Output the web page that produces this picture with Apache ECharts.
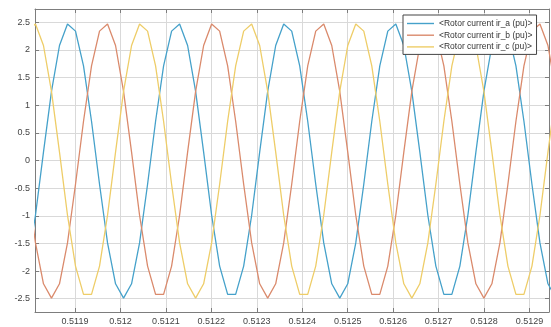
<!DOCTYPE html>
<html>
<head>
<meta charset="utf-8">
<script src="https://cdn.jsdelivr.net/npm/echarts@6.0.0/dist/echarts.min.js"></script>
<style>
  html, body { margin: 0; padding: 0; background: #fff; }
  #chart { width: 551px; height: 327px; }
</style>
</head>
<body>
<div id="chart"></div>
<script>
// sample times (s)
var times = [
    0.51179541, 0.51181303, 0.51183065, 0.51184827, 0.51186589, 0.51188351, 0.51190113, 0.51191875,
    0.51193637, 0.51195399, 0.51197161, 0.51198923, 0.51200685, 0.51202447, 0.51204209, 0.51205971,
    0.51207733, 0.51209495, 0.51211257, 0.51213019, 0.51214781, 0.51216543, 0.51218305, 0.51220067,
    0.51221829, 0.51223591, 0.51225353, 0.51227115, 0.51228877, 0.51230639, 0.51232401, 0.51234163,
    0.51235925, 0.51237687, 0.51239449, 0.51241211, 0.51242973, 0.51244735, 0.51246497, 0.51248259,
    0.51250021, 0.51251783, 0.51253545, 0.51255307, 0.51257069, 0.51258831, 0.51260593, 0.51262355,
    0.51264117, 0.51265879, 0.51267641, 0.51269403, 0.51271165, 0.51272927, 0.51274689, 0.51276451,
    0.51278213, 0.51279975, 0.51281737, 0.51283499, 0.51285261, 0.51287023, 0.51288785, 0.51290547,
    0.51292309, 0.51294071, 0.51295833
];

var irA = [
    -1.91, -0.99, 0.15, 1.25, 2.08, 2.47, 2.34, 1.71, 0.71, -0.43, -1.49, -2.23, -2.49, -2.23, -1.49, -0.43,
    0.71, 1.71, 2.34, 2.47, 2.08, 1.25, 0.15, -0.99, -1.91, -2.42, -2.42, -1.91, -0.99, 0.15, 1.25, 2.08,
    2.47, 2.34, 1.71, 0.71, -0.43, -1.49, -2.23, -2.49, -2.23, -1.49, -0.43, 0.71, 1.71, 2.34, 2.47, 2.08,
    1.25, 0.15, -0.99, -1.91, -2.42, -2.42, -1.91, -0.99, 0.15, 1.25, 2.08, 2.47, 2.34, 1.71, 0.71, -0.43,
    -1.49, -2.23, -2.49
];

var irB = [
    -0.43, -1.49, -2.23, -2.49, -2.23, -1.49, -0.43, 0.71, 1.71, 2.34, 2.47, 2.08, 1.25, 0.15, -0.99, -1.91,
    -2.42, -2.42, -1.91, -0.99, 0.15, 1.25, 2.08, 2.47, 2.34, 1.71, 0.71, -0.43, -1.49, -2.23, -2.49, -2.23,
    -1.49, -0.43, 0.71, 1.71, 2.34, 2.47, 2.08, 1.25, 0.15, -0.99, -1.91, -2.42, -2.42, -1.91, -0.99, 0.15,
    1.25, 2.08, 2.47, 2.34, 1.71, 0.71, -0.43, -1.49, -2.23, -2.49, -2.23, -1.49, -0.43, 0.71, 1.71, 2.34,
    2.47, 2.08, 1.25
];

var irC = [
    2.34, 2.47, 2.08, 1.25, 0.15, -0.99, -1.91, -2.42, -2.42, -1.91, -0.99, 0.15, 1.25, 2.08, 2.47, 2.34,
    1.71, 0.71, -0.43, -1.49, -2.23, -2.49, -2.23, -1.49, -0.43, 0.71, 1.71, 2.34, 2.47, 2.08, 1.25, 0.15,
    -0.99, -1.91, -2.42, -2.42, -1.91, -0.99, 0.15, 1.25, 2.08, 2.47, 2.34, 1.71, 0.71, -0.43, -1.49, -2.23,
    -2.49, -2.23, -1.49, -0.43, 0.71, 1.71, 2.34, 2.47, 2.08, 1.25, 0.15, -0.99, -1.91, -2.42, -2.42, -1.91,
    -0.99, 0.15, 1.25
];

var seriesNames = ['<Rotor current ir_a (pu)>', '<Rotor current ir_b (pu)>', '<Rotor current ir_c (pu)>'];
var xTicks = [0.5119, 0.5120, 0.5121, 0.5122, 0.5123, 0.5124, 0.5125, 0.5126, 0.5127, 0.5128, 0.5129];
var yTicks = [-2.5, -2, -1.5, -1, -0.5, 0, 0.5, 1, 1.5, 2, 2.5];

var xMin = 0.511812, xMax = 0.512943;
var yMin = -2.74, yMax = 2.74;
var colors = ['#45a1ca', '#da8a6c', '#eecd68'];
var fontFam = 'Liberation Sans, Arial, sans-serif';

function pairs(ys) {
    var out = [];
    for (var i = 0; i < times.length; i++) {
        out.push([times[i], ys[i]]);
    }
    return out;
}

function fmtX(v) { return String(+(+v).toFixed(4)); }
function fmtY(v) { return String(+(+v).toFixed(1)); }

var boxLine = {show: true, onZero: false, lineStyle: {color: '#7d7d7d', width: 1}};
var grid = {show: true, lineStyle: {color: '#d9d9d9', width: 1}};

var myChart = echarts.init(document.getElementById('chart'), null, {renderer: 'canvas'});
myChart.setOption({
    animation: false,
    backgroundColor: '#fff',
    color: colors,
    textStyle: {fontFamily: fontFam},
    grid: {left: 35, right: 2, top: 9, bottom: 15, containLabel: false},
    legend: {
        data: seriesNames,
        orient: 'vertical',
        left: 403,
        top: 15,
        padding: [4, 4, 3, 4],
        icon: 'rect',
        itemWidth: 27,
        itemHeight: 1.4,
        itemGap: 2.7,
        backgroundColor: '#fff',
        borderColor: '#444',
        borderWidth: 1,
        borderRadius: 0,
        textStyle: {fontSize: 8.5, lineHeight: 9, color: '#333', fontFamily: fontFam}
    },
    xAxis: [{
        type: 'value',
        position: 'bottom',
        min: xMin,
        max: xMax,
        axisLine: boxLine,
        splitLine: grid,
        axisTick: {show: true, inside: true, length: 4, lineStyle: {color: '#7d7d7d'}, customValues: xTicks},
        axisLabel: {customValues: xTicks, formatter: fmtX, fontSize: 9, color: '#444', margin: 5}
    }, {
        type: 'value',
        position: 'top',
        min: xMin,
        max: xMax,
        axisLine: boxLine,
        axisTick: {show: true, inside: true, length: 4, lineStyle: {color: '#7d7d7d'}, customValues: xTicks},
        axisLabel: {show: false, customValues: xTicks},
        splitLine: {show: false}
    }],
    yAxis: [{
        type: 'value',
        position: 'left',
        min: yMin,
        max: yMax,
        axisLine: boxLine,
        splitLine: grid,
        axisTick: {show: true, inside: true, length: 4, lineStyle: {color: '#7d7d7d'}, customValues: yTicks},
        axisLabel: {customValues: yTicks, formatter: fmtY, fontSize: 9, color: '#444', margin: 5}
    }, {
        type: 'value',
        position: 'right',
        min: yMin,
        max: yMax,
        axisLine: boxLine,
        axisTick: {show: true, inside: true, length: 4, lineStyle: {color: '#7d7d7d'}, customValues: yTicks},
        axisLabel: {show: false, customValues: yTicks},
        splitLine: {show: false}
    }],
    series: [
        {name: seriesNames[0], type: 'line', symbol: 'none', data: pairs(irA), lineStyle: {width: 1.3}},
        {name: seriesNames[1], type: 'line', symbol: 'none', data: pairs(irB), lineStyle: {width: 1.3}},
        {name: seriesNames[2], type: 'line', symbol: 'none', data: pairs(irC), lineStyle: {width: 1.3}}
    ]
});
</script>
</body>
</html>
